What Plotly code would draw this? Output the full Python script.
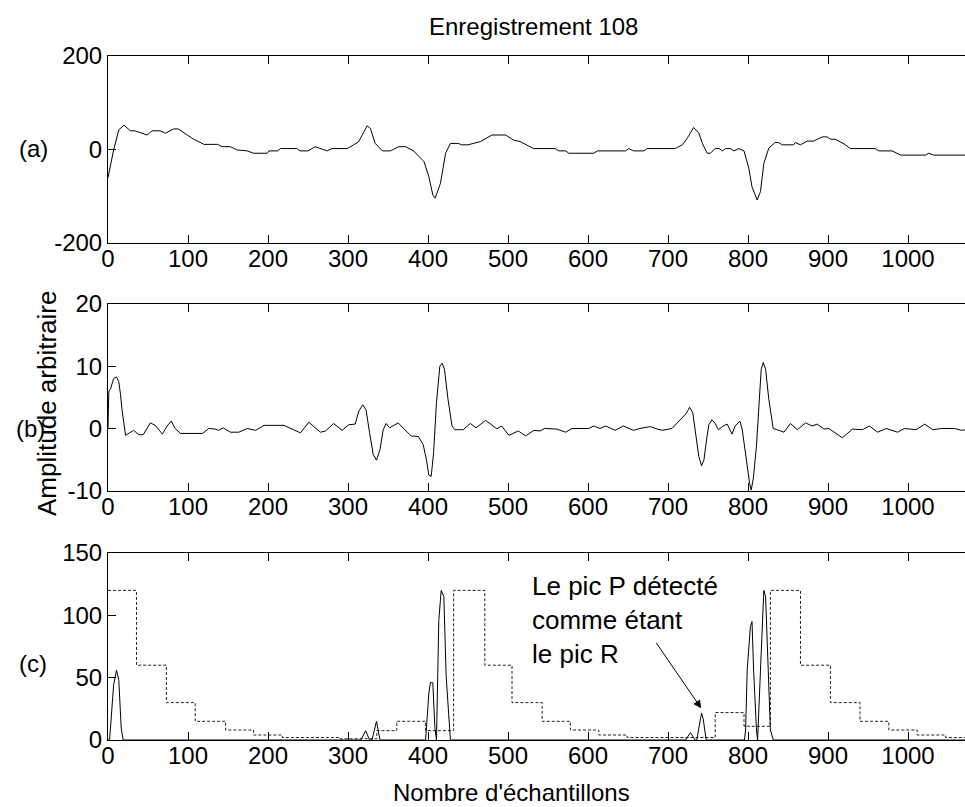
import plotly.graph_objects as go

# ---------------- data ----------------
a_x = [0, 1, 7, 13.5, 20, 28, 33.5, 49, 55, 65, 72, 82, 88, 99, 107, 120, 137, 142.7, 153, 161.5, 174, 182,
       199, 201, 212, 215.6, 236, 240, 250, 259, 265, 274, 280, 299, 307, 313, 320, 324, 328, 334, 343, 353,
       363.5, 372, 382, 395, 401, 406, 409, 415.6, 422, 428, 438, 442, 450, 465.6, 480, 497, 507, 515, 532,
       559, 563.5, 572, 576, 607, 612, 647, 651, 657, 670, 674, 709, 718, 724, 732, 738.5, 743, 749, 753, 759,
       764, 768, 772, 778, 782.5, 788.5, 795, 801, 805, 811.5, 815.6, 819.8, 826, 834, 838, 843, 857, 859,
       865.6, 874, 882, 893, 899, 903, 909, 920, 928, 959, 963.5, 980, 991, 1022, 1026, 1032, 1072]
a_y = [-60, -51, -1, 42, 52, 40, 40, 31, 40, 40, 35, 44, 44, 31, 22, 11, 11, 6, 6, -1, -3, -8,
       -8, -3, -3, 2, 2, -3, -3, 6, 2, -3, 2, 2, 10, 16, 38, 51, 45, 13, -3, -3,
       6, 6, -3, -26, -58, -97, -104, -72, -8, 13, 13, 10, 10, 17, 31, 31, 20, 17, 2,
       2, -3, -3, -8, -8, -3, -3, 2, -3, -3, 2, 2, 10, 24, 47, 35, 13, -8, -8, 2,
       2, -3, 2, 2, -3, 2, -3, -40, -80, -108, -90, -30, 3, 15, 15, 10, 10, 15,
       10, 18, 18, 27, 27, 22, 22, 12, 2, 2, -3, -3, -12, -12, -8, -12, -12]

b_x = [0, 1, 3, 7, 10.6, 13.5, 15.6, 17.7, 22, 26, 32, 38.5, 44, 53, 59, 68, 74, 79, 84, 90.6, 118, 126,
       134, 138, 144, 153, 163.5, 174, 184.5, 195, 220, 230, 240.6, 251, 265.6, 272, 282, 292.7, 301, 309,
       313.5, 318.5, 322.5, 327, 331.5, 335.6, 340, 344, 347.7, 352, 362.7, 371, 379, 388, 394, 398, 401,
       404, 407, 410.6, 414.8, 417.7, 420.6, 425, 430, 433.5, 444, 453, 460, 472, 482, 486, 492, 501, 513,
       522, 532.5, 540, 546, 561, 572, 580, 601, 607, 615, 622, 634, 644, 657, 665, 678, 684, 692.7, 705,
       722.7, 727, 731, 734.4, 738.5, 742, 745, 748, 751, 755, 759, 763, 769, 774, 780, 784, 789.8, 792.7,
       796, 799, 802, 804, 806.7, 810.6, 813.5, 816.5, 819, 822, 826, 831.5, 838.5, 845, 853, 861.7, 872,
       880, 886.5, 895, 901, 907.7, 918, 930.6, 943, 951.7, 962, 972.7, 987, 995.6, 1004, 1010, 1021, 1031,
       1042, 1058, 1067, 1072]
b_y = [0, 6, 6.3, 8, 8.3, 7.5, 5.5, 2.8, -1.1, -0.8, -0.3, -1, -1, 0.9, 0.5, -0.9, 0.4, 1.2, 0, -0.8, -0.8, 0,
       -0.1, -0.3, 0.1, -0.6, -0.6, 0, -0.3, 0.5, 0.5, -0.1, -0.7, 1, -0.6, -0.4, 0.8, -0.3, 0.6, 0.7,
       2.8, 3.8, 3, -0.7, -4.2, -5.1, -3.4, -0.2, 0.8, 0.1, 0.9, -0.2, -1.2, -1.3, -2.6, -5, -7.5,
       -7.7, -3.9, 4.2, 10, 10.5, 9.5, 4.7, 0.4, -0.2, -0.2, 0.8, 0.1, 1.3, 0.4, -0.05, 0.4, -1.1, -0.4,
       -1.2, -0.3, -0.4, 0, -0.1, -0.6, 0, 0, 0.4, 0, 0.4, -0.3, 0.4, -0.3, 0, 0.3, 0, -0.3, 0,
       2.4, 3.4, 2.5, -0.7, -4.5, -6, -5, -2, 0.6, 1.4, 0.8, -0.2, 0.4, 0.7, -0.9, 0.4, 1.2, -0.1,
       -3.4, -6.1, -8.8, -9.9, -8, -2.8, 4.2, 9.5, 10.6, 9.5, 4.7, 0, -0.3, -0.6, 0.8, -0.2, 0.9,
       0.4, 0.7, -0.1, 0, -0.6, -1.5, -0.1, -0.2, 0.4, -0.6, 0, -0.6, 0, -0.1, -0.2, 0.7, -0.2,
       0, 0, -0.3, -0.2]

c_x = [0, 2, 7, 10.6, 13.5, 16.5, 19, 316, 322, 327, 330, 335.6, 340, 397, 401, 403, 406, 408.6, 410.6,
       413.5, 416.5, 419.8, 422.7, 425.6, 428, 722, 728, 734, 736, 740.6, 742, 744, 747.7, 795.6, 797, 799,
       803, 805, 807, 810.6, 812, 815.6, 819.8, 822, 825, 828, 831.7, 1072]
c_y = [0, 0, 44, 56, 48, 9.6, 0, 0, 7.4, 0, 0, 15, 0, 0, 37, 46, 46, 10, 0,
       96, 120, 115, 51, 20, 0, 0, 5.9, 0, 0, 17, 21.4, 17, 0, 0, 8, 56,
       91, 95, 56, 8, 0, 56, 120, 115, 56, 8, 0, 0]

thr_x = [0, 35.6, 73, 109, 147, 182, 218, 290, 336, 361, 397, 432, 471, 505, 542.7, 578, 613.5, 649, 759,
         795, 828, 865.6, 903, 940, 976, 1011.5, 1047, 1072]
thr_y = [120, 60, 30, 15, 8, 4, 2, 1, 7.5, 15, 7.5, 120, 60, 30, 15, 8, 4, 2, 22,
         11, 120, 60, 30, 15, 8, 4, 2, 2]

a_ticks = [-200, 0, 200]
a_ticklabels = ["-200", "0", "200"]
b_ticks = [-10, 0, 10, 20]
b_ticklabels = ["-10", "0", "10", "20"]
c_ticks = [0, 50, 100, 150]
c_ticklabels = ["0", "50", "100", "150"]
x_ticks = [0, 100, 200, 300, 400, 500, 600, 700, 800, 900, 1000]

title_text = "Enregistrement 108"
xlabel_text = "Nombre d'échantillons"
ylabel_text = "Amplitude arbitraire"
panel_labels = ["(a)", "(b)", "(c)"]
note_text = "Le pic P détecté<br>comme étant<br>le pic R"
note_x, note_y = 741.5, 25.4

# ---------------- figure ----------------
W, H = 965, 807
ML, MR, MT, MB = 108, 0, 56, 67
PW, PH = W - ML - MR, H - MT - MB
FONT = "Liberation Sans, Arial, Helvetica, sans-serif"


def px2paper_x(px):
    return (px - ML) / PW


def px2paper_y(py):
    return (H - MB - py) / PH


fig = go.Figure()
line = dict(color="black", width=1)
fig.add_trace(go.Scatter(x=a_x, y=a_y, mode="lines", line=line, xaxis="x", yaxis="y", showlegend=False))
fig.add_trace(go.Scatter(x=b_x, y=b_y, mode="lines", line=line, xaxis="x2", yaxis="y2", showlegend=False))
fig.add_trace(go.Scatter(x=thr_x, y=thr_y, mode="lines", line=dict(color="#222", width=1, dash="3px,2px", shape="hv"),
                         xaxis="x3", yaxis="y3", showlegend=False))
fig.add_trace(go.Scatter(x=c_x, y=c_y, mode="lines", line=line, xaxis="x3", yaxis="y3", showlegend=False))

xr = [0, PW / 0.8]
tickfont = dict(family=FONT, size=24, color="black")
xcommon = dict(range=xr, tickvals=x_ticks, ticks="inside", ticklen=8, tickcolor="black", showline=True,
               linecolor="black", linewidth=1, mirror="ticks", showgrid=False, zeroline=False,
               tickfont=tickfont, domain=[0, 1], ticklabelstandoff=-6)
ycommon = dict(ticks="inside", ticklen=8, tickcolor="black", showline=True, linecolor="black", linewidth=1,
               mirror=False, showgrid=False, zeroline=False, tickfont=tickfont)

doms = {
    "a": [px2paper_y(243), px2paper_y(56)],
    "b": [px2paper_y(490.7), px2paper_y(304)],
    "c": [px2paper_y(740), px2paper_y(553)],
}

fig.update_layout(
    width=W, height=H, autosize=False,
    margin=dict(l=ML, r=MR, t=MT, b=MB, pad=0),
    plot_bgcolor="white", paper_bgcolor="white",
    font=dict(family=FONT, size=24, color="black"),
    xaxis=dict(xcommon, anchor="y"),
    xaxis2=dict(xcommon, anchor="y2"),
    xaxis3=dict(xcommon, anchor="y3"),
    yaxis=dict(ycommon, range=[-200, 200], tickvals=a_ticks, ticktext=a_ticklabels, domain=doms["a"], anchor="x"),
    yaxis2=dict(ycommon, range=[-10, 20], tickvals=b_ticks, ticktext=b_ticklabels, domain=doms["b"], anchor="x2"),
    yaxis3=dict(ycommon, range=[0, 150], tickvals=c_ticks, ticktext=c_ticklabels, domain=doms["c"], anchor="x3"),
)

ann = []
ann.append(dict(text=title_text, xref="paper", yref="paper", x=px2paper_x(533), y=px2paper_y(27),
                xanchor="center", yanchor="middle", showarrow=False, font=dict(size=24)))
ann.append(dict(text=xlabel_text, xref="paper", yref="paper", x=px2paper_x(511), y=px2paper_y(792),
                xanchor="center", yanchor="middle", showarrow=False, font=dict(size=24)))
ann.append(dict(text=ylabel_text, xref="paper", yref="paper", x=px2paper_x(47), y=px2paper_y(404),
                xanchor="center", yanchor="middle", showarrow=False, textangle=-90, font=dict(size=26)))
for lab, (cx, cy) in zip(panel_labels, [(33, 148), (30, 428), (33, 663)]):
    ann.append(dict(text=lab, xref="paper", yref="paper", x=px2paper_x(cx), y=px2paper_y(cy),
                    xanchor="center", yanchor="middle", showarrow=False, font=dict(size=24)))
ann.append(dict(text=note_text, xref="x3", yref="y3", x=527, y=137, xanchor="left", yanchor="top",
                align="left", showarrow=False, font=dict(size=26)))
ann.append(dict(text="", xref="x3", yref="y3", x=note_x, y=note_y, ax=-46, ay=-67, showarrow=True,
                arrowhead=2, arrowsize=1.6, arrowwidth=1, arrowcolor="black", standoff=0))
fig.update_layout(annotations=ann)

fig.write_html("out.html")
